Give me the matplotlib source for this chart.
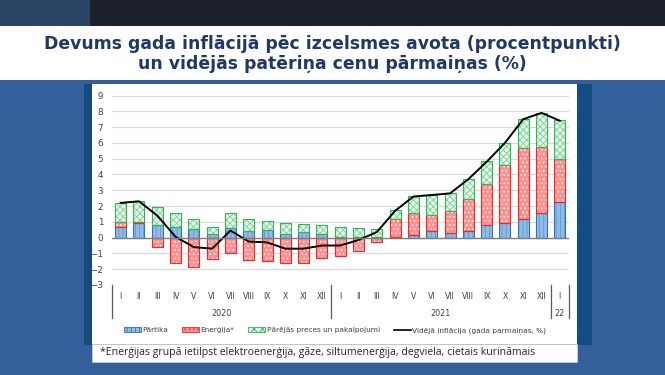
import matplotlib
matplotlib.use("Agg")
import matplotlib.pyplot as plt
import matplotlib.patches as mpatches
import matplotlib.lines as mlines
import matplotlib.transforms as mtrans
import numpy as np

# dati (procentpunkti)
months = ["I", "II", "III", "IV", "V", "VI", "VII", "VIII", "IX", "X", "XI", "XII",
          "I", "II", "III", "IV", "V", "VI", "VII", "VIII", "IX", "X", "XI", "XII",
          "I"]
years = ["2020", "2021", "22"]
year_len = [12, 12, 1]

partika = [0.70, 0.95, 0.78, 0.69, 0.53, 0.21, 0.59, 0.44, 0.46, 0.21, 0.36, 0.20,
           0.02, 0.02, 0.05, 0.05, 0.17, 0.40, 0.27, 0.42, 0.82, 0.95, 1.20, 1.54,
           2.24]
energija = [0.30, 0.05, -0.57, -1.60, -1.83, -1.37, -0.99, -1.41, -1.45, -1.60, -1.60, -1.31,
            -1.18, -0.82, -0.25, 1.13, 1.41, 1.03, 1.43, 2.04, 2.60, 3.63, 4.48, 4.18,
            2.72]
parejas = [1.20, 1.30, 1.16, 0.85, 0.63, 0.44, 0.95, 0.76, 0.61, 0.72, 0.48, 0.58,
           0.63, 0.57, 0.48, 0.57, 1.03, 1.29, 1.10, 1.25, 1.43, 1.43, 1.85, 2.19,
           2.47]
inflacija = [2.2, 2.3, 1.4, 0.05, -0.6, -0.7, 0.45, -0.25, -0.3, -0.7, -0.7, -0.5,
             -0.5, -0.15, 0.35, 1.7, 2.6, 2.7, 2.8, 3.7, 4.8, 6.0, 7.5, 7.9,
             7.4]

W, H = 665, 375
fig = plt.figure(figsize=(W / 100, H / 100), dpi=100)

def box(x0, y0, x1, y1, **kw):
    # pikseļi -> figūras koordinātas (y no augšas)
    fig.patches.append(mpatches.Rectangle((x0 / W, 1 - y1 / H), (x1 - x0) / W, (y1 - y0) / H,
                                          transform=fig.transFigure, **kw))

box(0, 0, W, H, facecolor="#33609a", edgecolor="none", zorder=-10)
box(0, 0, W, 26, facecolor="#1c212b", edgecolor="none", zorder=-9)
box(0, 0, 90, 26, facecolor="#2a4465", edgecolor="none", zorder=-9)
box(0, 26, W, 80, facecolor="white", edgecolor="none", zorder=-9)
box(84, 84, 92, 345, facecolor="#164a7d", edgecolor="none", zorder=-9)
box(577, 84, 592, 345, facecolor="#134d84", edgecolor="none", zorder=-9)
box(92, 84, 577, 344, facecolor="white", edgecolor="none", zorder=-9)
box(92, 344, 577, 362, facecolor="white", edgecolor="#c8c8c8", linewidth=0.6, zorder=-9)

fig.text(0.5, 1 - 44 / H, "Devums gada inflācijā pēc izcelsmes avota (procentpunkti)",
         ha="center", va="center", fontsize=12.45, fontweight="bold", color="#1f3864")
fig.text(0.5, 1 - 64 / H, "un vidējās patēriņa cenu pārmaiņas (%)",
         ha="center", va="center", fontsize=12.45, fontweight="bold", color="#1f3864")
fig.text(100 / W, 1 - 353 / H,
         "*Enerģijas grupā ietilpst elektroenerģija, gāze, siltumenerģija, degviela, cietais kurināmais",
         ha="left", va="center", fontsize=7.6, color="#262626", family="Open Sans")

ax = fig.add_axes([111.5 / W, 1 - 285 / H, (569 - 111.5) / W, (285 - 95.5) / H])
ax.patch.set_alpha(0)

x = np.arange(len(months))
p = np.array(partika)
e = np.array(energija)
o = np.array(parejas)
e_bot = np.where(e > 0, p, 0)
o_bot = p + np.clip(e, 0, None)
bw = 0.6

plt.rcParams["hatch.linewidth"] = 0.6

blue_face, blue_hatch, blue_edge = "#8fbbe4", "#5b9bd5", "#2e75b6"
red_face, red_hatch, red_edge = "#ff9090", "white", "#ff2020"
green_face, green_hatch, green_edge = "#e2f5e6", "#7fd098", "#2fb55a"

ax.bar(x, p, bw, color=blue_face, edgecolor=blue_hatch, hatch="||||", linewidth=0, zorder=3)
ax.bar(x, p, bw, fill=False, edgecolor=blue_edge, linewidth=0.8, zorder=4)
ax.bar(x, e, bw, bottom=e_bot, color=red_face, edgecolor=red_hatch, hatch="....", linewidth=0, zorder=3)
ax.bar(x, e, bw, bottom=e_bot, fill=False, edgecolor=red_edge, linewidth=0.8, zorder=4)
ax.bar(x, o, bw, bottom=o_bot, color=green_face, edgecolor=green_hatch, hatch="xxxxx", linewidth=0, zorder=3)
ax.bar(x, o, bw, bottom=o_bot, fill=False, edgecolor=green_edge, linewidth=0.8, zorder=4)
ax.plot(x, inflacija, color="black", linewidth=1.4, zorder=5)

ax.set_xlim(-0.5, len(months) - 0.5)
ax.set_ylim(-3, 9)
ax.set_yticks(range(-3, 10))
ax.tick_params(axis="y", length=0, pad=6, labelsize=6.3, labelcolor="#404040")
ax.set_xticks([])
for s in ax.spines.values():
    s.set_visible(False)
for v in range(-2, 10):
    ax.axhline(v, color="#d9d9d9", linewidth=0.8, zorder=1)
ax.axhline(0, color="#7f7f7f", linewidth=1.0, zorder=6)

# daudzlīmeņu kategoriju ass
tr = mtrans.blended_transform_factory(ax.transData, ax.transAxes)
for i, m in enumerate(months):
    ax.text(i, -0.063, m, transform=tr, ha="center", va="center", fontsize=5.6, color="#404040")
edges = np.concatenate([[0], np.cumsum(year_len)]) - 0.5
for xe in edges:
    ax.plot([xe, xe], [0, -0.175], transform=tr, color="#595959", linewidth=0.9, clip_on=False)
for k, yname in enumerate(years):
    ax.text((edges[k] + edges[k + 1]) / 2, -0.153, yname, transform=tr, ha="center",
            va="center", fontsize=5.8, color="#404040")

handles = [
    mpatches.Patch(facecolor=blue_face, edgecolor=blue_edge, hatch="||||", linewidth=0.6, label="Pārtika"),
    mpatches.Patch(facecolor=red_face, edgecolor=red_edge, hatch="....", linewidth=0.6, label="Enerģija*"),
    mpatches.Patch(facecolor=green_face, edgecolor=green_edge, hatch="xxxx", linewidth=0.6,
                   label="Pārējās preces un pakalpojumi"),
    mlines.Line2D([], [], color="black", linewidth=1.2, label="Vidējā inflācija (gada parmaiņas, %)"),
]
fig.legend(handles=handles, loc="center", bbox_to_anchor=(335 / W, 1 - 331 / H), ncol=4,
           frameon=False, fontsize=5.3, handlelength=2.3, handleheight=0.7, handletextpad=0.2,
           columnspacing=1.9, labelcolor="#404040")

fig.savefig("out.png", dpi=100)
